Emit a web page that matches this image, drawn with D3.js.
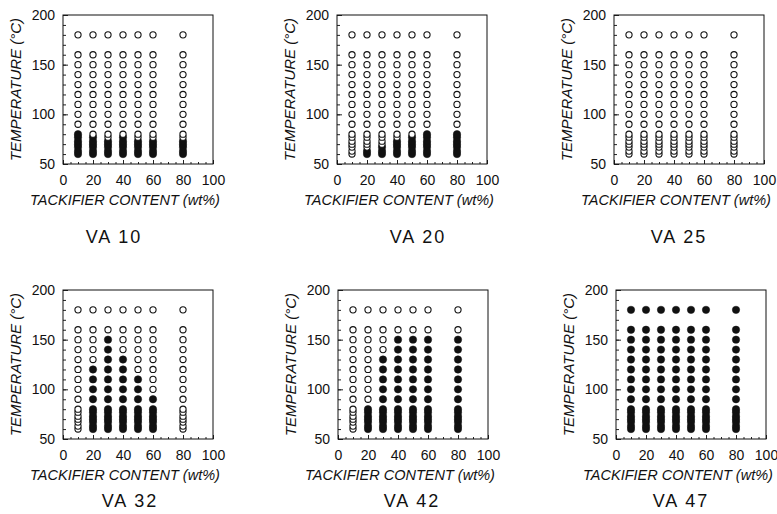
<!DOCTYPE html>
<html>
<head>
<meta charset="utf-8">
<script src="https://cdn.jsdelivr.net/npm/d3@7"></script>
<style>
  body { margin: 0; background: #fff; }
  text { font-family: "Liberation Sans", Arial, sans-serif; fill: #111; }
</style>
</head>
<body>
<div id="chart"></div>
<script>
// tackifier content (wt%) and test temperatures (°C)
var contents = [10, 20, 30, 40, 50, 60, 80];
var temperatures = [60, 63, 67, 70, 73, 77, 80, 90, 100, 110, 120, 130, 140, 150, 160, 180];

var grades = ["VA 10", "VA 20", "VA 25", "VA 32", "VA 42", "VA 47"];

// highest temperature drawn as a filled circle, per content (0 = none filled)
var va10Filled = [80, 77, 73, 77, 73, 73, 73];
var va20Filled = [0, 63, 67, 73, 77, 80, 80];
var va25Filled = [0, 0, 0, 0, 0, 0, 0];
var va32Filled = [0, 120, 150, 130, 110, 90, 0];
var va42Filled = [0, 80, 130, 150, 150, 150, 150];
var va47Filled = [180, 180, 180, 180, 180, 180, 180];
var filledByGrade = [va10Filled, va20Filled, va25Filled, va32Filled, va42Filled, va47Filled];

var xTicks = [0, 20, 40, 60, 80, 100];
var yTicks = [50, 100, 150, 200];

var width = 777, height = 514;
var w = 150, h = 149;

// panel placement (top-left of plot frame) and title anchors
var panelPos = [[63, 15], [337, 15], [614, 15], [63, 290], [338, 290], [616, 290]];
var titlePos = [[114, 243], [418, 243], [679, 243], [130, 507], [412, 507], [681, 507]];

var svg = d3.select("#chart")
    .append("svg")
    .attr("width", width)
    .attr("height", height);

var x = d3.scaleLinear().domain([0, 100]).range([0, w]);
var y = d3.scaleLinear().domain([50, 200]).range([h, 0]);

grades.forEach(function (name, gi) {
    var g = svg.append("g")
        .attr("transform", `translate(${panelPos[gi][0]}, ${panelPos[gi][1]})`);

    // minor ticks first
    g.append("g")
        .attr("transform", `translate(0, ${h})`)
        .call(d3.axisBottom(x).tickValues(d3.range(0, 101, 5)).tickSize(-2).tickSizeOuter(0).tickFormat(""));
    g.append("g")
        .call(d3.axisLeft(y).tickValues(d3.range(50, 201, 10)).tickSize(-3).tickSizeOuter(0).tickFormat(""));

    // major ticks + labels
    var xa = g.append("g")
        .attr("transform", `translate(0, ${h})`)
        .call(d3.axisBottom(x).tickValues(xTicks).tickSize(-4).tickSizeOuter(0).tickPadding(11));
    var ya = g.append("g")
        .call(d3.axisLeft(y).tickValues(yTicks).tickSize(-5).tickSizeOuter(0).tickPadding(8));

    g.selectAll(".tick text").style("font-size", "14px").attr("fill", "#111");
    g.selectAll(".domain").remove();
    g.selectAll(".tick line").attr("stroke", "#222");

    // frame
    g.append("rect")
        .attr("width", w)
        .attr("height", h)
        .attr("fill", "none")
        .attr("stroke", "#111")
        .attr("stroke-width", 1);

    // points
    var filled = filledByGrade[gi];
    var pts = [];
    contents.forEach(function (c, ci) {
        temperatures.forEach(function (t) {
            pts.push({c: c, t: t, on: t <= filled[ci]});
        });
    });

    g.selectAll("circle.pt")
        .data(pts)
        .enter()
        .append("circle")
        .attr("class", "pt")
        .attr("cx", function (d) { return x(d.c); })
        .attr("cy", function (d) { return y(d.t); })
        .attr("r", function (d) { return d.on ? 3.7 : 3.1; })
        .attr("fill", function (d) { return d.on ? "#111" : "#fff"; })
        .attr("stroke", "#111")
        .attr("stroke-width", function (d) { return d.on ? 0.5 : 1.1; });

    // axis titles
    g.append("text")
        .attr("x", w / 2 - 13)
        .attr("y", h + 41)
        .attr("text-anchor", "middle")
        .style("font-size", "14.5px")
        .style("font-style", "italic")
        .text("TACKIFIER CONTENT (wt%)");

    g.append("text")
        .attr("transform", `translate(-42, ${h / 2}) rotate(-90)`)
        .attr("text-anchor", "middle")
        .style("font-size", "15px")
        .style("font-style", "italic")
        .text("TEMPERATURE (°C)");

    svg.append("text")
        .attr("x", titlePos[gi][0])
        .attr("y", titlePos[gi][1])
        .attr("text-anchor", "middle")
        .style("font-size", "18px")
        .style("letter-spacing", "2px")
        .text(name);
});
</script>
</body>
</html>
